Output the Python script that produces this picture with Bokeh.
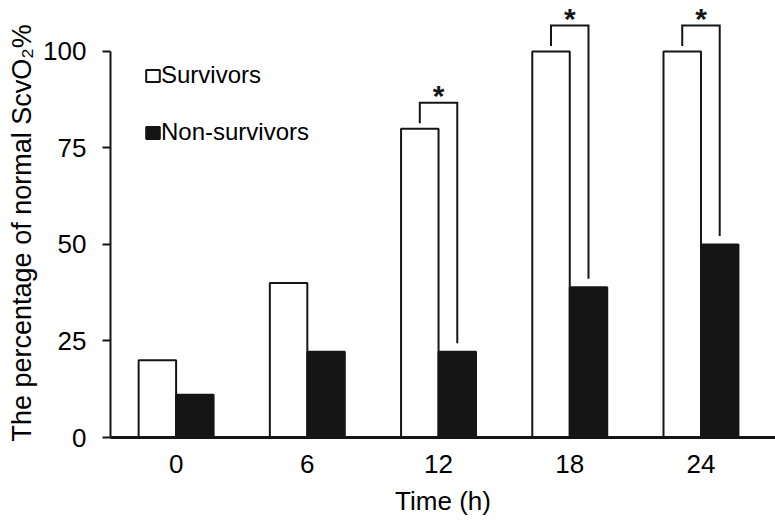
from bokeh.plotting import figure
from bokeh.models import (Range1d, FixedTicker, Legend, LegendItem, Title,
                          ColumnDataSource)
from bokeh.transform import dodge
from bokeh.embed import file_html
from bokeh.resources import INLINE
from bokeh.core.properties import value

# ---- data ----
times = ["0", "6", "12", "18", "24"]
survivors = [20, 40, 80, 100, 100]
non_survivors = [11.1, 22.2, 22.2, 38.9, 50]
significant = [False, False, True, True, True]
y_ticks = [0, 25, 50, 75, 100]

FONT = "Liberation Sans"
INK = "#151515"
HALF = 0.1428
BW = 0.2856

pos = list(range(len(times)))

p = figure(width=775, height=520,
           x_range=Range1d(-0.5, 4.568),
           y_range=Range1d(0, 113.2),
           output_backend="svg", toolbar_location=None,
           min_border_left=109, min_border_right=0,
           min_border_top=0, min_border_bottom=83)
p.outline_line_color = None
p.xgrid.grid_line_color = None
p.ygrid.grid_line_color = None
p.background_fill_color = "white"

src = ColumnDataSource(dict(pos=pos, s=survivors, ns=non_survivors))
r1 = p.vbar(x=dodge("pos", -HALF), top="s", bottom=0, width=BW,
            source=src, fill_color="white", line_color=INK, line_width=2)
r2 = p.vbar(x=dodge("pos", HALF), top="ns", bottom=0, width=BW,
            source=src, fill_color=INK, line_color=INK, line_width=2)

# significance brackets derived from the bar values
xs, ys, sx, sy = [], [], [], []
for i, (s, ns, sig) in enumerate(zip(survivors, non_survivors, significant)):
    if not sig:
        continue
    top = s + 6.7
    xs.append([i - HALF, i - HALF, i + HALF, i + HALF])
    ys.append([s + 1.4, top, top, ns + 2.2])
    sx.append(i)
    sy.append(top + 1.8)
p.multi_line(xs=xs, ys=ys, line_color=INK, line_width=2, line_join="miter")
p.text(x=sx, y=sy, text=["*"] * len(sx), text_font=value(FONT),
       text_font_style="bold", text_font_size="30px", text_color=INK,
       text_align="center", text_baseline="middle")

# axes
xa = p.xaxis[0]
xa.ticker = FixedTicker(ticks=pos)
xa.major_label_overrides = {i: t for i, t in zip(pos, times)}
xa.major_tick_line_color = None
xa.minor_tick_line_color = None
xa.axis_line_width = 3
xa.axis_line_color = INK
xa.major_label_text_font = FONT
xa.major_label_text_font_size = "26px"
xa.major_label_text_color = "black"
xa.major_label_text_line_height = 1.0
xa.major_label_standoff = 11
xa.axis_label = "Time (h)"
xa.axis_label_text_font = FONT
xa.axis_label_text_font_style = "normal"
xa.axis_label_text_font_size = "26px"
xa.axis_label_text_color = "black"
xa.axis_label_text_line_height = 1.0
xa.axis_label_standoff = 10

ya = p.yaxis[0]
ya.ticker = FixedTicker(ticks=y_ticks)
ya.bounds = (0, 100)
ya.axis_line_width = 2
ya.axis_line_color = INK
ya.major_tick_line_width = 2
ya.major_tick_line_color = INK
ya.major_tick_out = 8
ya.major_tick_in = 0
ya.minor_tick_line_color = None
ya.major_label_text_font = FONT
ya.major_label_text_font_size = "26px"
ya.major_label_text_color = "black"
ya.major_label_standoff = 16

ytitle = Title(text="The percentage of normal ScvO\u2082%", align="left",
               offset=-4, standoff=8, text_font=FONT, text_font_size="27px",
               text_font_style="normal", text_color="black",
               text_line_height=1.0)
p.add_layout(ytitle, "left")

legend = Legend(items=[LegendItem(label="Survivors", renderers=[r1]),
                       LegendItem(label="Non-survivors", renderers=[r2])],
                location=(34, 291), border_line_color=None,
                background_fill_alpha=0, padding=0, margin=0, spacing=29,
                glyph_width=17, glyph_height=15, label_height=27,
                label_standoff=0, label_text_font=FONT,
                label_text_font_size="24px", label_text_color="black")
p.add_layout(legend)

open("out.html", "w").write(file_html(p, INLINE))
